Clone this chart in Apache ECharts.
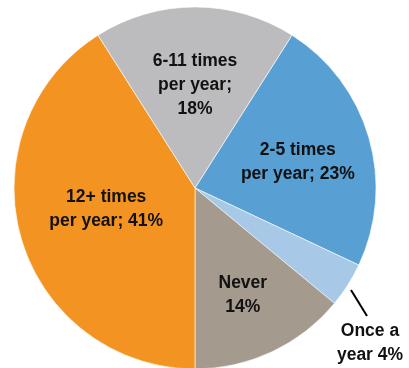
<!DOCTYPE html>
<html>
<head>
<meta charset="utf-8">
<script src="https://cdn.jsdelivr.net/npm/echarts@6/dist/echarts.min.js"></script>
<style>
  html, body { margin: 0; padding: 0; background: #fff; }
  #chart { width: 409px; height: 368px; }
</style>
</head>
<body>
<div id="chart"></div>
<script>
// slices, clockwise from the 6-11 / 2-5 boundary
var categories = ["2-5 times\nper year; 23%", "Once a\nyear 4%", "Never\n14%", "12+ times\nper year; 41%", "6-11 times\nper year;\n18%"];
var values = [23, 4, 14, 41, 18];
var colors = ["#589fd3", "#a7c8e7", "#a59a8e", "#f39322", "#bcbcbe"];

// label nudges from default inner spot
var labelShift = [[13, 0], [0, 0], [8, 23], [1, -5], [0, -9]];

var chart = echarts.init(document.getElementById("chart"));

var data = values.map(function (v, i) {
  var item = {
    name: categories[i],
    value: v,
    itemStyle: { color: colors[i] }
  };
  if (i === 1) {
    item.label = { position: "outside" };
    item.labelLine = { show: true };
  }
  return item;
});

chart.setOption({
  animation: false,
  series: [
    {
      type: "pie",
      center: [195, 188],
      radius: [0, 181],
      startAngle: 57.6,
      clockwise: true,
      avoidLabelOverlap: false,
      itemStyle: {
        borderColor: "#ffffff",
        borderWidth: 0.6
      },
      label: {
        show: true,
        position: "inner",
        formatter: "{b}",
        color: "#111",
        fontFamily: "Liberation Sans, Arial, sans-serif",
        fontWeight: "bold",
        fontSize: 17.5,
        lineHeight: 24,
        align: "center"
      },
      labelLine: {
        show: false,
        lineStyle: { color: "#000", width: 2 }
      },
      labelLayout: function (params) {
        var i = params.dataIndex;
        if (i === 1) {
          return {
            x: 370,
            y: 343,
            align: "center",
            verticalAlign: "middle",
            labelLinePoints: [[351, 290], [359, 303], [367, 316]]
          };
        }
        return { dx: labelShift[i][0], dy: labelShift[i][1] };
      },
      data: data
    }
  ]
});
</script>
</body>
</html>
